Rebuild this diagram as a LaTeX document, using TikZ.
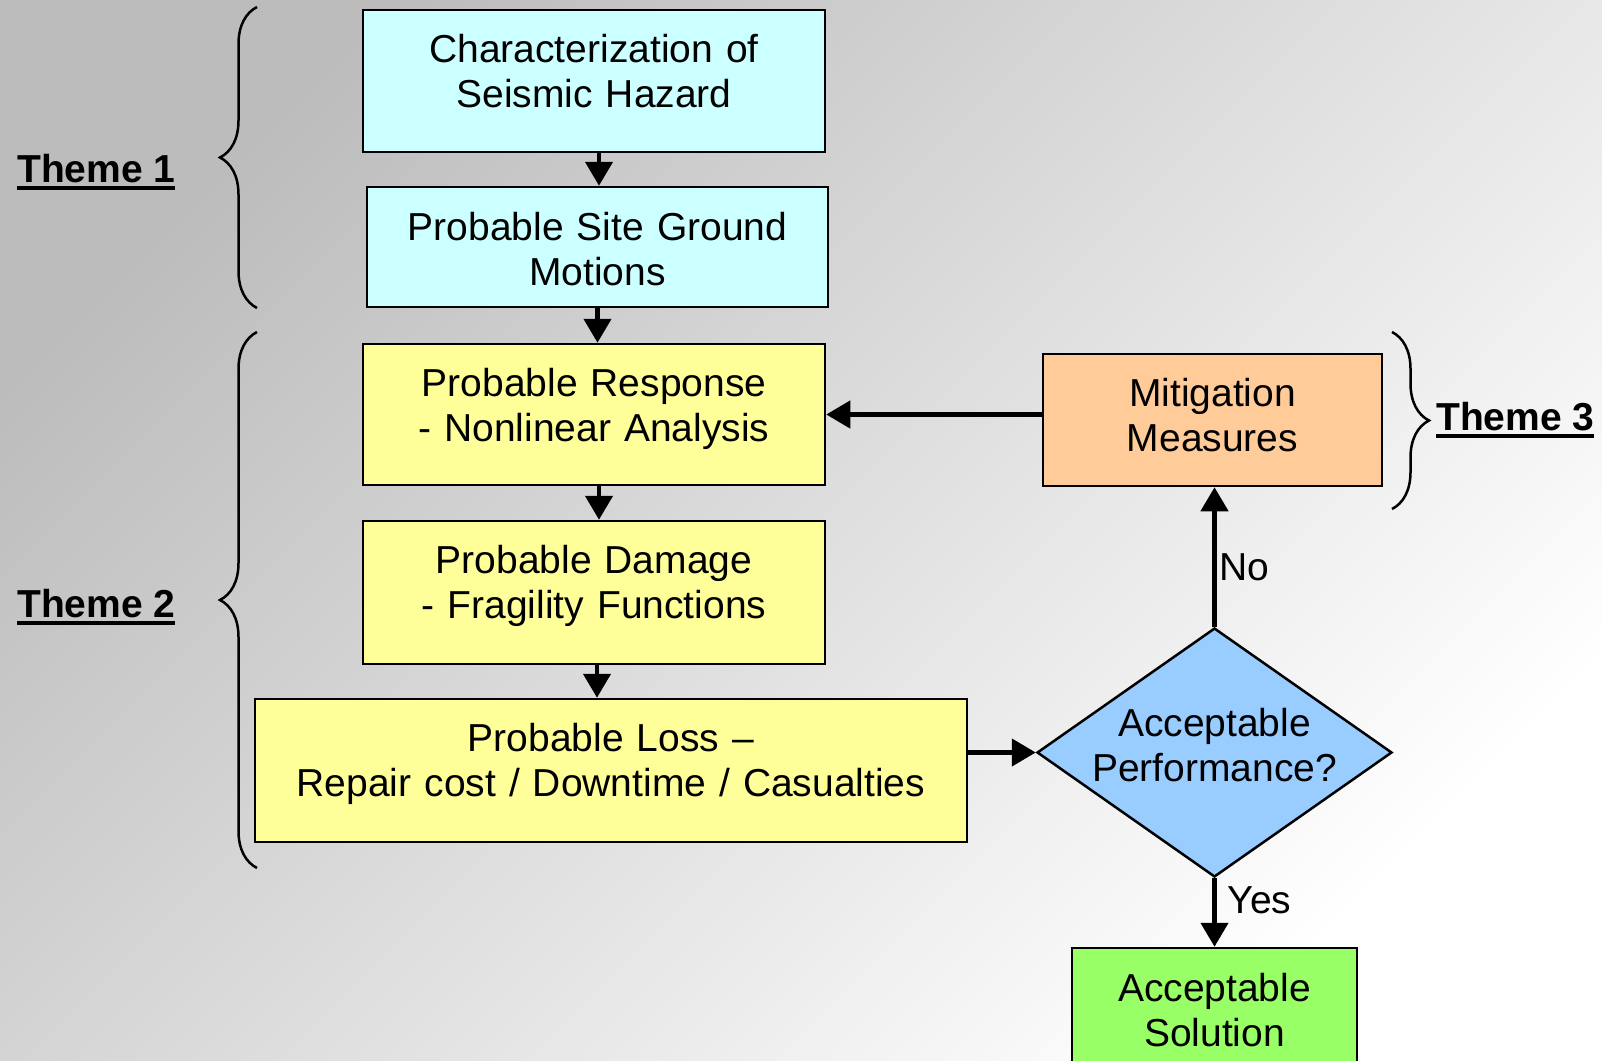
\documentclass[tikz,border=0pt]{standalone}
\usepackage{fontspec}
\setmainfont{Liberation Sans}
\usepackage{tikz}
\usetikzlibrary{shapes.geometric,arrows.meta,decorations.pathreplacing}
\definecolor{hazard}{HTML}{CCFFFF}
\definecolor{impact}{HTML}{FFFF99}
\definecolor{mitig}{HTML}{FFCC99}
\definecolor{check}{HTML}{99CCFF}
\definecolor{solved}{HTML}{99FF66}
\definecolor{bgdark}{HTML}{BCBCBC}
\definecolor{bglight}{HTML}{FFFFFF}
\newcommand\themelab[1]{\setbox0=\hbox{\bfseries #1}\rlap{\rule[-8pt]{\wd0}{4.5pt}}\box0}
\tikzset{
  big/.style={font=\fontsize{39}{45}\selectfont},
  box/.style 2 args={draw=black, line width=2.5pt, big, inner sep=0pt, align=center,
    text width=#1, minimum height=#2},
  lift/.style={execute at end node={\par\kern#1\relax}},
  dec/.style={diamond, draw=black, line width=2.5pt, fill=check, big, align=center,
    aspect=1.426, minimum width=355pt, minimum height=249pt, inner sep=-20pt, text width=250pt},
  arr/.style={line width=4.5pt, -{Triangle[length=24pt,width=27pt]}},
  brace/.style={decorate, decoration={brace, amplitude=37pt}, line width=2.5pt},
  theme/.style={big, anchor=base west, inner sep=0pt},
  tag/.style={big, inner sep=3pt, anchor=west},
}
\begin{document}
\begin{tikzpicture}[x=1pt, y=-1pt]
  \useasboundingbox (0,0) rectangle (1602,1060);
  \clip (0,0) rectangle (1602,1060);
  \shade[top color=bgdark, bottom color=bglight, shading angle=45] (0,0) rectangle (1602,1060);

  \node[box={462pt}{142pt}, fill=hazard, lift=20pt] (b1) at (594,81) {Characterization of\\Seismic Hazard};
  \node[box={461pt}{120pt}, fill=hazard, lift=-4pt] (b2) at (597.5,247) {Probable Site Ground\\Motions};
  \node[box={462pt}{141pt}, fill=impact, lift=12pt] (b3) at (594,414.5) {Probable Response\\- Nonlinear Analysis};
  \node[box={462pt}{143pt}, fill=impact, lift=14pt] (b4) at (594,592.5) {Probable Damage\\- Fragility Functions};
  \node[box={712pt}{143pt}, fill=impact, lift=13pt] (b5) at (611,770.5) {Probable Loss --\\Repair cost / Downtime / Casualties};
  \node[box={339pt}{132pt}, fill=mitig, lift=10pt] (mit) at (1212.5,420) {Mitigation\\Measures};
  \node[dec, lift=15pt] (dec) at (1214.5,752.5) {Acceptable\\Performance?};
  \node[box={285pt}{142pt}, fill=solved, lift=18pt] (sol) at (1214.5,1019) {Acceptable\\Solution};

  \foreach \a/\b/\dx in {b1/b2/5,b2/b3/0,b3/b4/5,b4/b5/3}
    \draw[arr] ([xshift=\dx pt]\a.south) -- ([xshift=\dx pt]\a.south |- \b.north);
  \draw[arr] (b5.east |- dec.west) -- (dec.west);
  \draw[arr] (mit.west |- b3.east) -- (b3.east);
  \draw[arr] (dec.north) -- (dec.north |- mit.south) node[tag, pos=0.43] {No};
  \draw[arr] (dec.south) -- (dec.south |- sol.north) node[tag, pos=0.32, xshift=8pt] {Yes};

  \draw[brace] (257,308) -- (257,7);
  \draw[brace] (257,868) -- (257,332);
  \draw[brace] (1392,332) -- (1392,509);
  \node[theme] (t1) at (17,182) {\themelab{Theme 1}};
  \node[theme] (t2) at (17,617) {\themelab{Theme 2}};
  \node[theme] (t3) at (1436,430) {\themelab{Theme 3}};
\end{tikzpicture}
\end{document}
